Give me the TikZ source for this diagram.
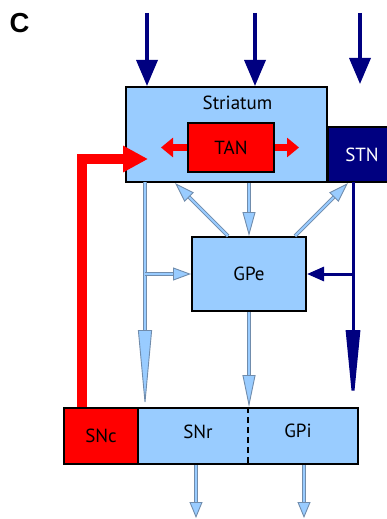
\documentclass[tikz,border=0pt]{standalone}
\usepackage{fontspec}
\setmainfont{PT Sans}
\newfontfamily\panelfont{Liberation Sans}
\usetikzlibrary{arrows.meta}
\definecolor{boxblue}{RGB}{153,204,255}
\definecolor{navy}{RGB}{0,0,128}
\definecolor{edgeblue}{RGB}{112,140,172}
\definecolor{hotred}{RGB}{255,0,0}
\tikzset{
  nb/.style={draw=black, line width=2pt, fill=boxblue, inner sep=0pt,
             font=\fontsize{19}{22}\selectfont},
  nr/.style={nb, fill=hotred},
  nn/.style={nb, fill=navy, text=white},
  na/.style={navy, line width=3.5pt},
  lb/.style={draw=edgeblue, line width=0.9pt, double=boxblue, double distance=1.8pt},
  lbtip/.style={-{Triangle[length=#1, width=13pt, fill=boxblue, line width=0.9pt]}},
  rd/.style={hotred, line width=7pt}
}

\begin{document}
\begin{tikzpicture}[x=1pt, y=-1pt]
  \useasboundingbox (0,0) rectangle (387,519);
  \node[inner sep=0pt, scale=1.25] (panel) at (19.5,23) {\panelfont\bfseries\fontsize{22}{26}\selectfont C};

  % boxes
  \node[nb, minimum width=201pt, minimum height=95pt,
        label={[anchor=north, inner sep=0pt, xshift=11pt, yshift=-10pt,
                font=\fontsize{19}{22}\selectfont]north:Striatum}] (str) at (226.5,134.5) {};
  \node[nr, minimum width=86pt, minimum height=49pt] (tan) at (231,147.5) {TAN};
  \node[nn, minimum width=68pt, minimum height=55pt] (stn) at (362,154.5) {STN};
  \node[nb, minimum width=114pt, minimum height=74pt] (gpe) at (249,274) {GPe};
  \node[nr, minimum width=74pt, minimum height=56pt] (snc) at (101,436) {SNc};
  \node[nb, minimum width=220pt, minimum height=56pt] (sng) at (248,436) {};
  \node[font=\fontsize{19}{22}\selectfont] (snr) at (198,432) {SNr};
  \node[font=\fontsize{19}{22}\selectfont] (gpi) at (298,431) {GPi};
  \draw[line width=2.4pt, dash pattern=on 6pt off 4pt] (sng.north) -- (sng.south);

  % inputs
  \coordinate (in1) at (147,13); \coordinate (in2) at (255,13);
  \coordinate (in3) at (360,13); \coordinate (in3e) at (360,84);
  \draw[na, -{Triangle[length=26pt, width=21pt]}] (in1) -- (in1 |- str.north);
  \draw[na, -{Triangle[length=26pt, width=21pt]}] (in2) -- (in2 |- str.north);
  \draw[na, -{Triangle[length=26pt, width=21pt]}] (in3) -- (in3e);

  % TAN
  \coordinate (tl) at (161,147.5); \coordinate (tr) at (299,147.5);
  \draw[rd, -{Triangle[length=12pt, width=19pt]}] (tan.west) -- (tl);
  \draw[rd, -{Triangle[length=12pt, width=19pt]}] (tan.east) -- (tr);

  % dopamine loop
  \coordinate (fb) at (148,159);
  \draw[rd, line width=10pt, -{Triangle[length=25pt, width=25pt]}] ([xshift=-19pt]snc.north) |- (fb);

  % striatal outputs
  \coordinate (lft) at (145,182); \coordinate (stnb) at (353,182);
  \draw[lb, -{Triangle[length=77pt, width=14pt, fill=boxblue, line width=0.9pt]}] (lft) -- (lft |- sng.north);
  \draw[lb, lbtip=18pt] (lft |- gpe.west) -- (gpe.west);
  \draw[lb, lbtip=24pt] (str.south -| gpe.north) -- (gpe.north);
  \draw[lb, lbtip=20pt] ([xshift=-21pt]gpe.north) -- (175,183);
  \draw[lb, lbtip=20pt] ([xshift=46pt]gpe.north) -- (348,183);
  \draw[lb, lbtip=32pt] (gpe.south) -- (gpe.south |- sng.north);

  % STN
  \draw[na, line width=3pt, -{Triangle[length=77pt, width=14pt]}] (stnb) -- (stnb |- sng.north);
  \draw[na, line width=3pt, -{Triangle[length=17pt, width=14pt]}] (stnb |- gpe.east) -- (gpe.east);

  % outputs
  \coordinate (o1) at (196,518); \coordinate (o2) at (304,518);
  \draw[lb, lbtip=16pt] (sng.south -| o1) -- (o1);
  \draw[lb, lbtip=16pt] (sng.south -| o2) -- (o2);
\end{tikzpicture}
\end{document}
